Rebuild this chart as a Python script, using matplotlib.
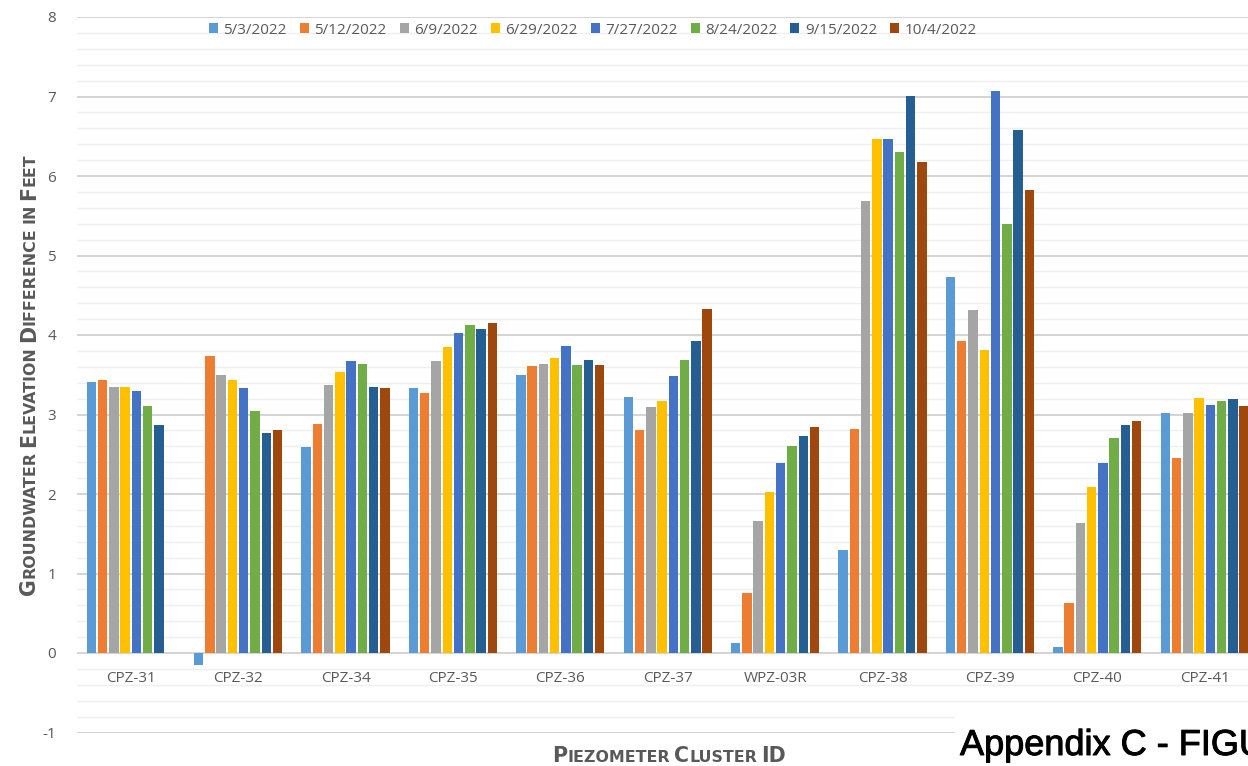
import numpy as np
import matplotlib.pyplot as plt
import matplotlib.transforms as mtransforms
from matplotlib.patches import Rectangle
from matplotlib import patheffects

# Groundwater elevation difference (ft) for each piezometer cluster
clusters = ['CPZ-31', 'CPZ-32', 'CPZ-34', 'CPZ-35', 'CPZ-36', 'CPZ-37',
            'WPZ-03R', 'CPZ-38', 'CPZ-39', 'CPZ-40', 'CPZ-41']
dates = ['5/3/2022', '5/12/2022', '6/9/2022', '6/29/2022',
         '7/27/2022', '8/24/2022', '9/15/2022', '10/4/2022']

d_0503 = [3.41, -0.15, 2.59, 3.33, 3.50, 3.22, 0.13, 1.30, 4.73, 0.07, 3.02]
d_0512 = [3.43, 3.74, 2.88, 3.27, 3.61, 2.81, 0.75, 2.82, 3.92, 0.63, 2.45]
d_0609 = [3.34, 3.50, 3.37, 3.67, 3.64, 3.09, 1.66, 5.68, 4.31, 1.64, 3.02]
d_0629 = [3.35, 3.44, 3.54, 3.85, 3.71, 3.17, 2.02, 6.47, 3.81, 2.09, 3.21]
d_0727 = [3.29, 3.33, 3.67, 4.03, 3.86, 3.48, 2.39, 6.46, 7.07, 2.39, 3.12]
d_0824 = [3.11, 3.05, 3.64, 4.12, 3.62, 3.69, 2.61, 6.30, 5.39, 2.71, 3.17]
d_0915 = [2.87, 2.77, 3.35, 4.07, 3.68, 3.93, 2.73, 7.01, 6.58, 2.87, 3.19]
d_1004 = [np.nan, 2.80, 3.33, 4.15, 3.62, 4.33, 2.84, 6.17, 5.82, 2.92, 3.11]

series = [d_0503, d_0512, d_0609, d_0629, d_0727, d_0824, d_0915, d_1004]
colors = ['#5B9BD5', '#ED7D31', '#A5A5A5', '#FFC000',
          '#4472C4', '#70AD47', '#255E91', '#9E480E']

TEXT = '#595959'
TICK_FONT = ['Open Sans', 'DejaVu Sans']

W, H = 1248, 766
fig = plt.figure(figsize=(W / 100, H / 100), dpi=100)
# plot area runs slightly past the right edge of the page
ax = fig.add_axes([77 / W, (H - 732.5) / H, 107.4 * 11 / W, 715.5 / H])

x = np.arange(len(clusters))
step, bw = 0.105, 0.088
for j, (vals, c, lab) in enumerate(zip(series, colors, dates)):
    ax.bar(x + (j - 3.5) * step, vals, width=bw, color=c, label=lab, zorder=3)

ax.set_xlim(-0.5, len(clusters) - 0.5)
ax.set_ylim(-1, 8)
ax.set_yticks(np.arange(-1, 9, 1))
ax.set_yticks(np.arange(-1, 8.01, 0.2), minor=True)
ax.set_yticklabels([str(v) for v in range(-1, 9)], family=TICK_FONT,
                   fontsize=11, color=TEXT)
ax.tick_params(axis='y', which='both', length=0, pad=15)
ax.set_xticks([])
ax.grid(axis='y', which='major', color='#d4d4d4', linewidth=1.4)
ax.grid(axis='y', which='minor', color='#efefef', linewidth=1.0)
ax.set_axisbelow(True)
for s in ax.spines.values():
    s.set_visible(False)

# category labels sit just under the zero line
for i, name in enumerate(clusters):
    ax.text(i, -0.365, name, ha='center', va='baseline', family=TICK_FONT,
            fontsize=11, color=TEXT)

leg = fig.legend(loc='center left', bbox_to_anchor=(209 / W, 1 - 30 / H),
                 ncol=8, frameon=False, prop={'family': TICK_FONT, 'size': 11},
                 handlelength=0.6, handleheight=0.6, handletextpad=0.35,
                 columnspacing=0.85, borderpad=0, borderaxespad=0)
for t in leg.get_texts():
    t.set_color(TEXT)


def small_caps(text, cx, cy, big, small, vertical=False):
    """Draw text in small capitals, centred at (cx, cy) in pixels; cy is the baseline."""
    renderer = fig.canvas.get_renderer()
    words = []
    for word in text.split():
        runs = []
        for ch in word:
            size = big if ch.isupper() else small
            if runs and runs[-1][1] == size:
                runs[-1][0] += ch.upper()
            else:
                runs.append([ch.upper(), size])
        words.append(runs)

    def width(s, size):
        t = fig.text(0, 0, s, fontsize=size, fontweight='bold', family='DejaVu Sans')
        w = t.get_window_extent(renderer).width
        t.remove()
        return w

    space = 0.35 * small
    sizes = [[width(s, sz) for s, sz in runs] for runs in words]
    total = sum(sum(ws) for ws in sizes) + space * (len(words) - 1)
    pos = -total / 2
    ident = mtransforms.IdentityTransform()
    for runs, ws in zip(words, sizes):
        for (s, sz), w in zip(runs, ws):
            if vertical:
                px, py, rot = cx, cy + pos, 90
            else:
                px, py, rot = cx + pos, cy, 0
            fig.text(px, py, s, fontsize=sz, fontweight='bold', family='DejaVu Sans',
                     color=TEXT, transform=ident, rotation=rot,
                     rotation_mode='anchor', ha='left', va='baseline')
            pos += w
        pos += space


fig.canvas.draw()
small_caps('Groundwater Elevation Difference in Feet', 35, H - 374, 14.8, 11.4,
           vertical=True)
small_caps('Piezometer Cluster ID', 669, H - 762, 14.8, 11.4)

# page footer overlapping the lower right of the chart
fig.add_artist(Rectangle((955 / W, 0), 1, (H - 710) / H, transform=fig.transFigure,
                         facecolor='white', edgecolor='none', zorder=5))
fig.text(960 / W, (H - 755) / H, 'Appendix C - FIGURE', fontsize=26,
         family=['Liberation Sans', 'DejaVu Sans'], color='black', zorder=6,
         va='baseline', ha='left',
         path_effects=[patheffects.withStroke(linewidth=0.7, foreground='black')])

fig.savefig('out.png', dpi=100)
